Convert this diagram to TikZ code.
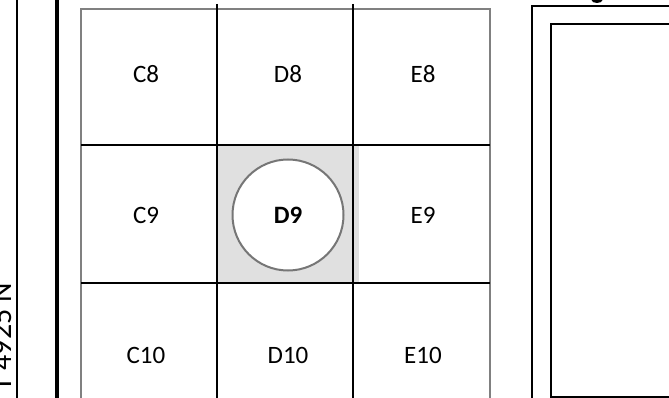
\documentclass[tikz,border=0pt]{standalone}
\usepackage{fontspec}
\setmainfont{Carlito}
\definecolor{framegrey}{HTML}{808080}
\definecolor{cellgrey}{HTML}{E0E0E0}
\definecolor{circgrey}{HTML}{767676}
\begin{document}
\begin{tikzpicture}[x=1pt,y=-1pt,
  blackline/.style={line width=2.4pt, draw=black},
  heavyline/.style={line width=3.2pt, draw=black},
  greyline/.style={line width=2.4pt, draw=framegrey},
  celllabel/.style={font=\fontsize{25}{28}\selectfont, inner sep=0pt},
  sidelabel/.style={font=\fontsize{30}{32}\selectfont, inner sep=0pt, rotate=90, anchor=base west}]
\useasboundingbox (0,0) rectangle (669,398);
\clip (0,0) rectangle (669,398);
% highlighted cell
\fill[cellgrey] (217,145) rectangle (359,283);
% left margin lines
\draw[blackline] (17,-5) -- (17,405);
\draw[heavyline] (57,-5) -- (57,405);
\node[sidelabel] (lat) at (11,392) {T 4925 N};
% grid frame
\coordinate (fbl) at (81,405);
\coordinate (ftl) at (81,9);
\coordinate (ftr) at (490,9);
\coordinate (fbr) at (490,405);
\draw[greyline] (fbl) -- (ftl) -- (ftr) -- (fbr);
% grid lines
\coordinate (v1t) at (217,4); \coordinate (v1b) at (217,405);
\coordinate (v2t) at (353,4); \coordinate (v2b) at (353,405);
\coordinate (h1l) at (81,145); \coordinate (h1r) at (490,145);
\coordinate (h2l) at (81,283); \coordinate (h2r) at (490,283);
\draw[blackline] (v1t) -- (v1b);
\draw[blackline] (v2t) -- (v2b);
\draw[blackline] (h1l) -- (h1r);
\draw[blackline] (h2l) -- (h2r);
% cell labels
\node[celllabel] (c8) at (146,74) {C8};
\node[celllabel] (d8) at (288,74) {D8};
\node[celllabel] (e8) at (423,74) {E8};
\node[celllabel] (c9) at (146,215) {C9};
\node[circle, draw=circgrey, line width=2pt, fill=white, minimum size=111pt, inner sep=0pt,
      font=\fontsize{25}{28}\selectfont\bfseries] (d9) at (288,215) {D9};
\node[celllabel] (e9) at (423,215) {E9};
\node[celllabel] (c10) at (146,355) {C10};
\node[celllabel] (d10) at (288,355) {D10};
\node[celllabel] (e10) at (423,355) {E10};
% right panel
\coordinate (obl) at (532,405); \coordinate (otl) at (532,6); \coordinate (otr) at (680,6);
\draw[blackline] (obl) -- (otl) -- (otr);
\coordinate (ibr) at (680,397); \coordinate (ibl) at (551,397);
\coordinate (itl) at (551,24); \coordinate (itr) at (680,24);
\draw[blackline] (ibr) -- (ibl) -- (itl) -- (itr);
% cut-off mark at top
\fill[black] (597,0) ellipse (5.5pt and 3pt);
\end{tikzpicture}
\end{document}
